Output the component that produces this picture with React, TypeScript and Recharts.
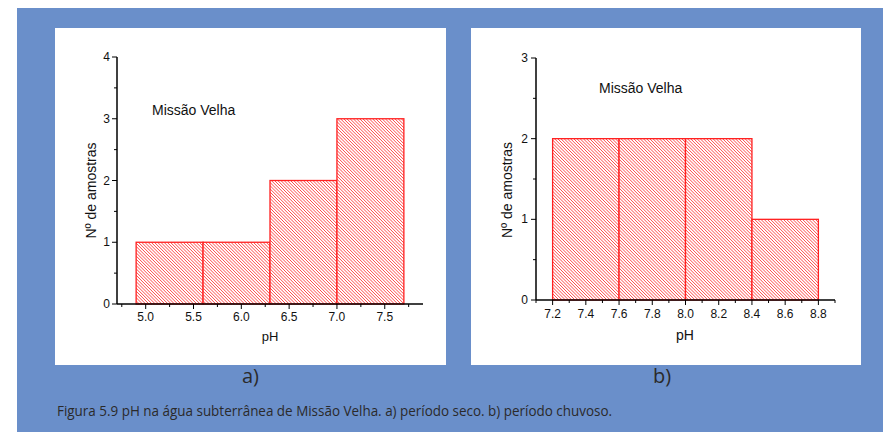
import React from 'react';
import { ComposedChart, XAxis, YAxis, ReferenceArea } from 'recharts';

// ---- Data: panel a) dry period ----
const binStartsA = [4.9, 5.6, 6.3, 7.0];
const binEndsA = [5.6, 6.3, 7.0, 7.7];
const countsA = [1, 1, 2, 3];
const xTicksA = [4.75, 5.0, 5.25, 5.5, 5.75, 6.0, 6.25, 6.5, 6.75, 7.0, 7.25, 7.5, 7.75];
const xLabelsA = ['5.0', '5.5', '6.0', '6.5', '7.0', '7.5'];
const yTicksA = [0, 0.5, 1, 1.5, 2, 2.5, 3, 3.5, 4];
const yLabelsA = ['0', '1', '2', '3', '4'];

// ---- Data: panel b) rainy period ----
const binStartsB = [7.2, 7.6, 8.0, 8.4];
const binEndsB = [7.6, 8.0, 8.4, 8.8];
const countsB = [2, 2, 2, 1];
const xTicksB = [7.1, 7.2, 7.3, 7.4, 7.5, 7.6, 7.7, 7.8, 7.9, 8.0, 8.1, 8.2, 8.3, 8.4, 8.5, 8.6, 8.7, 8.8, 8.9];
const xLabelsB = ['7.2', '7.4', '7.6', '7.8', '8.0', '8.2', '8.4', '8.6', '8.8'];
const yTicksB = [0, 0.5, 1, 1.5, 2, 2.5, 3];
const yLabelsB = ['0', '1', '2', '3'];

const annotation = 'Missão Velha';
const yTitle = 'Nº de amostras';
const xTitle = 'pH';
const caption = 'Figura 5.9 pH na água subterrânea de Missão Velha. a) período seco. b) período chuvoso.';

const FONT = 'Liberation Sans, Arial, Helvetica, sans-serif';
const RED = '#ff2020';
const HATCH = '#ff4a4a';

const XTick = (props: any) => {
  const { x, y, payload, labels, dy } = props;
  const txt = Number(payload.value).toFixed(1);
  const major = labels.includes(txt);
  return (
    <g>
      <line x1={x} x2={x} y1={y} y2={y + (major ? 5 : 3)} stroke="#000" strokeWidth={1} />
      {major && (
        <text x={x} y={y + dy} textAnchor="middle" fontSize={12} fill="#111" fontFamily={FONT}>
          {txt}
        </text>
      )}
    </g>
  );
};

const YTick = (props: any) => {
  const { x, y, payload, labels, dx } = props;
  const txt = String(payload.value);
  const major = labels.includes(txt);
  return (
    <g>
      <line x1={x} x2={x - (major ? 5 : 3)} y1={y} y2={y} stroke="#000" strokeWidth={1} />
      {major && (
        <text x={x - dx} y={y + 4} textAnchor="end" fontSize={12} fill="#111" fontFamily={FONT}>
          {txt}
        </text>
      )}
    </g>
  );
};

// Hatched rectangle drawn from the ReferenceArea's own scaled geometry
const HatchRect = (props: any) => {
  const { x, y, width, height, clipKey } = props;
  if (!(width > 0) || !(height > 0)) return null;
  const cid = `clip-${clipKey}-${Math.round(x)}-${Math.round(y)}`;
  const lines = [];
  const step = 3.2;
  for (let k = -height; k <= width; k += step) {
    lines.push(
      <line key={k} x1={x + k} y1={y} x2={x + k + height} y2={y + height} stroke={HATCH} strokeWidth={1} />
    );
  }
  return (
    <g>
      <defs>
        <clipPath id={cid}>
          <rect x={x} y={y} width={width} height={height} />
        </clipPath>
      </defs>
      <rect x={x} y={y} width={width} height={height} fill="#fff" />
      <g clipPath={`url(#${cid})`}>{lines}</g>
      <rect x={x} y={y} width={width} height={height} fill="none" stroke={RED} strokeWidth={1.3} />
    </g>
  );
};

const Panel = (p: any) => {
  const data = p.starts.map((s: number, i: number) => ({ mid: (s + p.ends[i]) / 2, count: p.counts[i] }));
  return (
    <ComposedChart width={p.width} height={p.height} data={data} margin={p.margin}>
      <XAxis
        type="number"
        dataKey="mid"
        domain={p.xDomain}
        ticks={p.xTicks}
        interval={0}
        allowDataOverflow
        height={p.xAxisHeight}
        tickSize={0}
        tickMargin={0}
        tickLine={false}
        axisLine={{ stroke: '#000', strokeWidth: 1.5 }}
        tick={<XTick labels={p.xLabels} dy={p.xLabelDy} />}
        label={{
          content: () => (
            <text x={p.xTitleX} y={p.xTitleY} textAnchor="middle" fontSize={p.xTitleSize} fill="#111" fontFamily={FONT}>
              {xTitle}
            </text>
          ),
        }}
      />
      <YAxis
        type="number"
        domain={p.yDomain}
        ticks={p.yTicks}
        interval={0}
        allowDataOverflow
        width={p.yAxisWidth}
        tickSize={0}
        tickMargin={0}
        tickLine={false}
        axisLine={{ stroke: '#000', strokeWidth: 1.5 }}
        tick={<YTick labels={p.yLabels} dx={p.yLabelDx} />}
        label={{
          content: () => (
            <text
              x={p.yTitleX}
              y={p.yTitleY}
              transform={`rotate(-90 ${p.yTitleX} ${p.yTitleY})`}
              textAnchor="middle"
              fontSize={14}
              fill="#111"
              fontFamily={FONT}
            >
              {yTitle}
            </text>
          ),
        }}
      />
      {p.starts.map((s: number, i: number) => (
        <ReferenceArea
          key={i}
          x1={s}
          x2={p.ends[i]}
          y1={0}
          y2={p.counts[i]}
          ifOverflow="visible"
          shape={(sp: any) => <HatchRect {...sp} clipKey={`${p.id}${i}`} />}
        />
      ))}
      <text x={p.annX} y={p.annY} fontSize={14} fill="#111" fontFamily={FONT}>
        {annotation}
      </text>
    </ComposedChart>
  );
};

export default function App() {
  return (
    <div style={{ position: 'absolute', left: 0, top: 0, width: 883, height: 432, background: '#fff', overflow: 'hidden' }}>
      <svg width={883} height={432} style={{ position: 'absolute', left: 0, top: 0 }}>
        <rect x={17} y={8} width={866} height={424} fill="#6a8fca" />
        <rect x={55} y={28} width={391} height={337} fill="#fff" />
        <rect x={471} y={28} width={390} height={337} fill="#fff" />
        <text x={250.5} y={383} textAnchor="middle" fontSize={20} fill="#2a2a2a" fontFamily='"Open Sans", sans-serif'>
          a)
        </text>
        <text x={662} y={383} textAnchor="middle" fontSize={20} fill="#2a2a2a" fontFamily='"Open Sans", sans-serif'>
          b)
        </text>
        <text
          x={57}
          y={415.5}
          fontSize={14}
          fill="#2a2a2a"
          fontFamily='"Open Sans", sans-serif'
          textLength={555}
          lengthAdjust="spacingAndGlyphs"
        >
          {caption}
        </text>
      </svg>
      <div style={{ position: 'absolute', left: 55, top: 28 }}>
        <Panel
          id="a"
          starts={binStartsA}
          ends={binEndsA}
          counts={countsA}
          xTicks={xTicksA}
          xLabels={xLabelsA}
          yTicks={yTicksA}
          yLabels={yLabelsA}
          xDomain={[4.7, 7.9]}
          yDomain={[0, 4]}
          width={391}
          height={337}
          margin={{ top: 29, right: 23, bottom: 0, left: 0 }}
          yAxisWidth={62}
          xAxisHeight={61}
          xLabelDy={17}
          yLabelDx={7}
          annX={97}
          annY={87}
          yTitleX={41}
          yTitleY={162.5}
          xTitleX={215}
          xTitleY={313}
          xTitleSize={13}
        />
      </div>
      <div style={{ position: 'absolute', left: 471, top: 28 }}>
        <Panel
          id="b"
          starts={binStartsB}
          ends={binEndsB}
          counts={countsB}
          xTicks={xTicksB}
          xLabels={xLabelsB}
          yTicks={yTicksB}
          yLabels={yLabelsB}
          xDomain={[7.1, 8.9]}
          yDomain={[0, 3]}
          width={390}
          height={337}
          margin={{ top: 30, right: 26, bottom: 0, left: 0 }}
          yAxisWidth={65}
          xAxisHeight={65}
          xLabelDy={18}
          yLabelDx={8}
          annX={128}
          annY={65}
          yTitleX={41}
          yTitleY={162}
          xTitleX={214}
          xTitleY={312}
          xTitleSize={14}
        />
      </div>
    </div>
  );
}
